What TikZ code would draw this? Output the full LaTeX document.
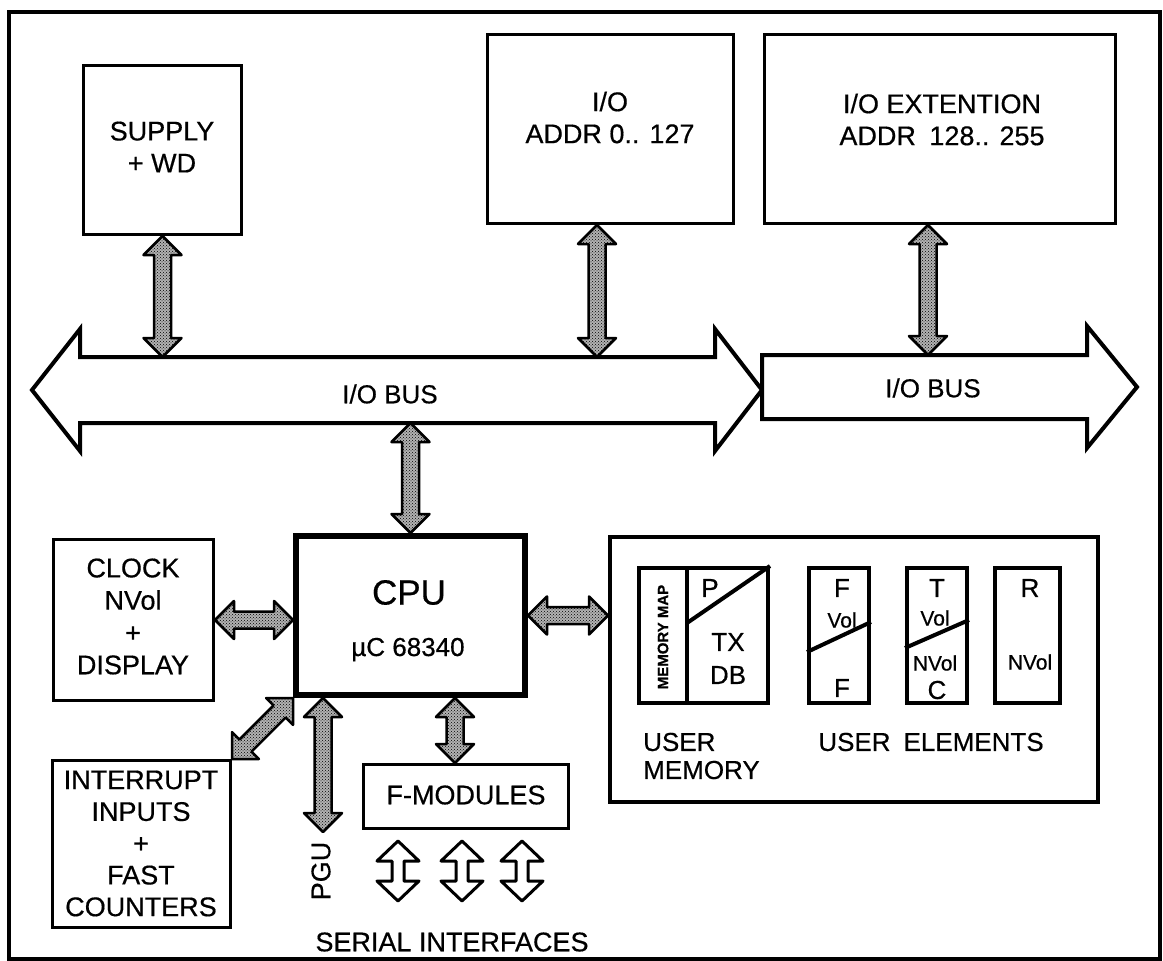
\documentclass[tikz,border=0pt]{standalone}
\usepackage{fontspec}
\setmainfont{Liberation Sans}[FakeBold=0.5]
\usetikzlibrary{calc,patterns}
% double arrow between two points: #1 style, #2 from, #3 to, #4 head length, #5 head half width, #6 shaft half width
\newcommand\dblarrow[6]{%
  \path (#2) coordinate (dA) (#3) coordinate (dB);
  \path ($(dA)!#4!(dB)$) coordinate (hA) ($(dB)!#4!(dA)$) coordinate (hB);
  \draw[#1] (dA) -- ($(hA)!#5!90:(dB)$) -- ($(hA)!#6!90:(dB)$) -- ($(hB)!#6!-90:(dA)$)
    -- ($(hB)!#5!-90:(dA)$) -- (dB) -- ($(hB)!#5!90:(dA)$) -- ($(hB)!#6!90:(dA)$)
    -- ($(hA)!#6!-90:(dB)$) -- ($(hA)!#5!-90:(dB)$) -- cycle;
}
\newcommand\stiparrow[2]{\dblarrow{stip}{#1}{#2}{19pt}{19pt}{8.5pt}}
\newcommand\hollowarrow[2]{\dblarrow{hollow}{#1}{#2}{20pt}{21pt}{6pt}}
\begin{document}
\begin{tikzpicture}[x=1pt,y=-1pt,
  txt/.style={font=\fontsize{27}{32}\selectfont, align=center, inner sep=0pt},
  mid/.style={font=\fontsize{26}{30}\selectfont, align=center, inner sep=0pt},
  small/.style={font=\fontsize{21}{24}\selectfont, align=center, inner sep=0pt},
  box/.style={draw, line width=3pt, inner sep=0pt},
  ubox/.style={draw, line width=4pt, inner sep=0pt},
  stip/.style={draw, line width=2.5pt, line join=round, preaction={fill=black!30}, pattern=crosshatch dots, pattern color=black},
  hollow/.style={draw, line width=3pt, line join=round, fill=white},
  bus/.style={draw, line width=4pt, line join=miter, fill=white},
]
\useasboundingbox (0,0) rectangle (1163,961);
% outer frame
\draw[line width=4pt] (9,12) rectangle (1160,959);

% top boxes
\node[box, minimum width=158, minimum height=169] (supply) at (162.5,150) {};
\node[box, minimum width=246, minimum height=189] (io) at (610.5,129) {};
\node[box, minimum width=351, minimum height=189] (ext) at (940,129) {};
\node[txt] (supplyt) at (162,147) {SUPPLY\\+ WD};
\node[txt] (iot) at (610,117.5) {I/O\\ADDR 0.. 127};
\node[txt] (extt) at (942,119.5) {I/O EXTENTION\\ADDR\enspace 128.. 255};

% buses
\draw[bus] (32,390) -- (80,329) -- (80,357) -- (715,357) -- (715,329) -- (762,390)
  -- (715,451) -- (715,423) -- (80,423) -- (80,451) -- cycle;
\draw[bus] (762,355) -- (1087,355) -- (1087,326) -- (1137,387) -- (1087,448)
  -- (1087,419) -- (762,419) -- cycle;
\node[mid] (bus1t) at (390,394) {I/O BUS};
\node[mid] (bus2t) at (933,388) {I/O BUS};
\coordinate (b1t) at (0,357);
\coordinate (b1b) at (0,423);
\coordinate (b2t) at (0,355);
\coordinate (ioa) at (597,0);
\coordinate (exa) at (928,0);

% CPU and surrounding boxes
\node[draw, line width=6pt, inner sep=0pt, minimum width=229, minimum height=159] (cpu) at (410.5,615.5) {};
\node[font=\fontsize{35}{40}\selectfont, inner sep=0pt] (cput) at (409,592.5) {CPU};
\node[mid, anchor=base] (mct) at (408,656) {µC 68340};

\node[box, minimum width=160, minimum height=161] (clock) at (133.5,620) {};
\node[txt, font=\fontsize{27}{32.3}\selectfont] (clockt) at (133,616.5) {CLOCK\\NVol\\+\\DISPLAY};

\node[box, minimum width=178, minimum height=167] (intr) at (141.5,844) {};
\node[txt, font=\fontsize{27}{31.75}\selectfont] (intrt) at (141,843.5) {INTERRUPT\\INPUTS\\+\\FAST\\COUNTERS};

\node[box, minimum width=205, minimum height=64] (fmod) at (466,796.5) {};
\node[txt] (fmodt) at (466,795) {F-MODULES};

\node[txt, rotate=90] (pgut) at (321,871) {PGU};
\node[txt] (serialt) at (452,942) {SERIAL INTERFACES};

% user area
\node[ubox, minimum width=488, minimum height=265] (user) at (854,669.5) {};
\node[ubox, minimum width=129, minimum height=135] (mem) at (703.5,635.5) {};
\node[ubox, minimum width=60, minimum height=135] (fb) at (839,635.5) {};
\node[ubox, minimum width=60, minimum height=135] (tb) at (937,635.5) {};
\node[ubox, minimum width=65, minimum height=135] (rb) at (1027.5,635.5) {};
\draw[line width=4pt] (687,566) -- (687,705);
\draw[line width=4pt] (687,623) -- (mem.north east);
\draw[line width=4pt] (807,652) -- (871,622);
\draw[line width=4pt] (905,648) -- (969,620);

\node[font=\bfseries\fontsize{15}{18}\selectfont, rotate=90, inner sep=0pt] (mmap) at (663,637) {MEMORY MAP};
\node[mid] (pt) at (710,588) {P};
\node[mid] (txt1) at (728,642) {TX};
\node[mid] (dbt) at (728,675) {DB};
\node[mid] (f1) at (842,588) {F};
\node[small] (v1) at (842,620) {Vol};
\node[mid] (f2) at (842,688) {F};
\node[mid] (t1) at (937,588) {T};
\node[small] (v2) at (935,618) {Vol};
\node[small] (nv1) at (935,663) {NVol};
\node[mid] (c1) at (937,690) {C};
\node[mid] (r1) at (1030,588) {R};
\node[small] (nv2) at (1030,662) {NVol};
\node[mid, align=left, anchor=west, font=\fontsize{26}{28}\selectfont] (umem) at (643,756) {USER\\MEMORY};
\node[mid] (uel) at (931,742) {USER\enspace ELEMENTS};

% stippled connectors
\stiparrow{supply.south}{supply.south |- b1t}
\stiparrow{io.south -| ioa}{ioa |- b1t}
\stiparrow{ext.south -| exa}{exa |- b2t}
\stiparrow{cpu.north}{cpu.north |- b1b}
\stiparrow{clock.east}{cpu.west |- clock.east}
\stiparrow{cpu.east}{user.west |- cpu.east}
\stiparrow{intr.north east}{cpu.south west}
\coordinate (pguend) at (323,832);
\stiparrow{pguend |- cpu.south}{pguend}
\coordinate (fmx) at (455,0);
\stiparrow{cpu.south -| fmx}{fmod.north -| fmx}

% serial interface arrows
\coordinate (s1a) at (398,841); \coordinate (s1b) at (398,901);
\coordinate (s2a) at (462,841); \coordinate (s2b) at (462,901);
\coordinate (s3a) at (522,841); \coordinate (s3b) at (522,901);
\hollowarrow{s1a}{s1b}
\hollowarrow{s2a}{s2b}
\hollowarrow{s3a}{s3b}
\end{tikzpicture}
\end{document}
